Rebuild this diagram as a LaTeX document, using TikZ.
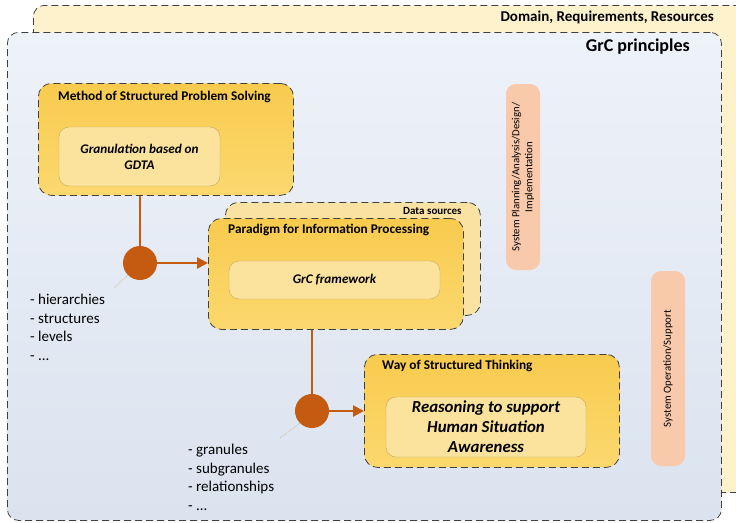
\documentclass[tikz,border=0pt]{standalone}
\usepackage{fontspec}
\setmainfont{Carlito}
\usetikzlibrary{arrows.meta,positioning}
\definecolor{backyellow}{HTML}{FEF2CC}
\definecolor{bluetop}{HTML}{EEF2F9}
\definecolor{bluebottom}{HTML}{DBE3EF}
\definecolor{boxtop}{HTML}{F8CB4E}
\definecolor{boxbottom}{HTML}{FBD86E}
\definecolor{srcyellow}{HTML}{FAE3A2}
\definecolor{inneryellow}{HTML}{FBE39E}
\definecolor{innerline}{HTML}{C8A85E}
\definecolor{phasepink}{HTML}{F8C9AA}
\definecolor{jointorange}{HTML}{C55A11}
\tikzset{
  area/.style={draw=black!75, dash pattern=on 7pt off 4pt, line width=0.8pt, rounded corners=11pt},
  mainbox/.style={area, top color=boxtop, bottom color=boxbottom, minimum width=255pt, minimum height=112pt, anchor=north west, rounded corners=13pt},
  innerbox/.style={draw=innerline, fill=inneryellow, rounded corners=10pt, font=\bfseries\itshape\fontsize{13.2}{16}\selectfont, align=center},
  boxtitle/.style={font=\bfseries\fontsize{13.3}{15}\selectfont, anchor=west, inner sep=0pt},
  phase/.style={fill=phasepink, rounded corners=10pt, rotate=90, align=center, font=\fontsize{10.8}{13}\selectfont, inner sep=1pt},
  joint/.style={circle, fill=jointorange, minimum size=34pt, inner sep=0pt},
  flow/.style={draw=jointorange, line width=2.5pt},
  pointer/.style={draw=brown!70, densely dotted, semithick},
  itemlist/.style={align=left, anchor=north west, inner sep=0pt, font=\fontsize{15}{18.5}\selectfont}
}
\begin{document}
\begin{tikzpicture}[x=1pt,y=-1pt]
  \useasboundingbox (0,0) rectangle (736,522);
  \clip (0,0) rectangle (736,522);
  \node[area, fill=backyellow, minimum width=740pt, minimum height=487pt, anchor=north west] (domain) at (33,5) {};
  \node[font=\bfseries\fontsize{15}{18}\selectfont, anchor=east, inner sep=0pt] (domaintitle) at (714,17) {Domain, Requirements, Resources};
  \node[area, top color=bluetop, bottom color=bluebottom, minimum width=714pt, minimum height=488pt, anchor=north west] (grc) at (7,32) {};
  \node[font=\bfseries\fontsize{18}{21}\selectfont, anchor=east, inner sep=0pt] (grctitle) at (690,47) {GrC principles};

  \node[phase, minimum width=186pt, minimum height=34pt] (planning) at (523,177) {System Planning/Analysis/Design/\\Implementation};
  \node[phase, minimum width=195pt, minimum height=34pt] (operation) at (668,368.5) {System Operation/Support};

  \node[mainbox] (method) at (38,83) {};
  \node[boxtitle] (methodtitle) at ([xshift=20pt,yshift=-14pt]method.north west) {Method of Structured Problem Solving};
  \node[innerbox, minimum width=161pt, minimum height=59pt] (gdta) at (139.5,156.5) {Granulation based on\\GDTA};

  \node[area, fill=srcyellow, minimum width=255pt, minimum height=113pt, anchor=north west, rounded corners=13pt] (sources) at (225,202) {};
  \node[boxtitle, anchor=east, font=\bfseries\fontsize{11}{13}\selectfont] (sourcestitle) at ([xshift=-19pt,yshift=-9pt]sources.north east) {Data sources};
  \node[mainbox, minimum height=111pt] (paradigm) at (208,218) {};
  \node[boxtitle] (paradigmtitle) at ([xshift=20pt,yshift=-12pt]paradigm.north west) {Paradigm for Information Processing};
  \node[innerbox, minimum width=211pt, minimum height=38pt] (framework) at (334.5,280) {GrC framework};

  \node[mainbox, minimum height=113pt] (thinking) at (364,354) {};
  \node[boxtitle] (thinkingtitle) at ([xshift=18pt,yshift=-12pt]thinking.north west) {Way of Structured Thinking};
  \node[innerbox, minimum width=200pt, minimum height=60pt, font=\bfseries\itshape\fontsize{16.8}{20}\selectfont] (reasoning) at (486,427) {Reasoning to support\\Human Situation\\Awareness};

  \node[joint] (c1) at (140,263) {};
  \node[joint] (c2) at (312,411) {};
  \draw[flow] (c1 |- method.south) -- (c1);
  \draw[flow, -{Triangle[length=11pt,width=11pt]}] (c1) -- (c1 -| paradigm.west);
  \draw[flow] (c2 |- paradigm.south) -- (c2);
  \draw[flow, -{Triangle[length=11pt,width=11pt]}] (c2) -- (c2 -| thinking.west);

  \coordinate (p1) at (114,288);
  \coordinate (p2) at (280,438);
  \draw[pointer] (c1.south west) -- (p1);
  \draw[pointer] (c2.south west) -- (p2);
  \node[itemlist] (levels) at (30,294) {- hierarchies\\- structures\\- levels\\- ...};
  \node[itemlist] (granules) at (188,444) {- granules\\- subgranules\\- relationships\\- ...};
\end{tikzpicture}
\end{document}
